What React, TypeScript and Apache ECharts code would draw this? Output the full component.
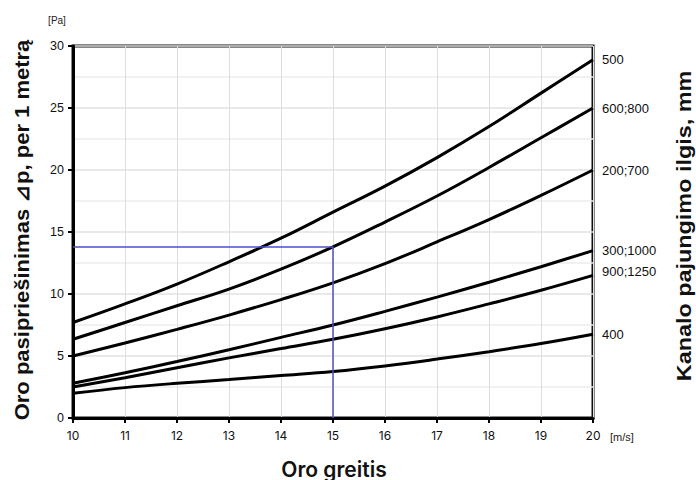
import React, { useEffect, useRef } from "react";
import * as echarts from "echarts";

const speeds = [10, 11, 12, 13, 14, 15, 16, 17, 18, 19, 20];
const seriesNames = ["500", "600;800", "200;700", "300;1000", "900;1250", "400"];
const s500 = [7.7, 9.2, 10.8, 12.6, 14.5, 16.6, 18.7, 21.0, 23.5, 26.2, 28.9];
const s600_800 = [6.35, 7.7, 9.05, 10.4, 12.0, 13.8, 15.8, 17.9, 20.2, 22.6, 25.0];
const s200_700 = [5.0, 6.05, 7.15, 8.3, 9.55, 10.9, 12.45, 14.2, 16.0, 17.95, 20.0];
const s300_1000 = [2.8, 3.65, 4.55, 5.5, 6.5, 7.5, 8.6, 9.75, 10.95, 12.2, 13.5];
const s900_1250 = [2.5, 3.25, 4.05, 4.85, 5.6, 6.35, 7.2, 8.15, 9.2, 10.3, 11.5];
const s400 = [2.0, 2.45, 2.8, 3.1, 3.42, 3.75, 4.2, 4.75, 5.35, 6.0, 6.75];
const allValues = [s500, s600_800, s200_700, s300_1000, s900_1250, s400];
const labelOffsets = [0, 0, 0, 0, -4, 0];
const guideX = [10, 15, 15];
const guideY = [13.8, 13.8, 0];

export default function App() {
  const ref = useRef<HTMLDivElement>(null);
  useEffect(() => {
    if (!ref.current) return;
    const chart = echarts.init(ref.current, null, { renderer: "svg" });
    const curveSeries = allValues.map((vals, i) => ({
      type: "line",
      name: seriesNames[i],
      data: speeds.map((x, j) => [x, vals[j]]),
      smooth: 0.4,
      showSymbol: false,
      lineStyle: { color: "#000", width: 3 },
      z: 3,
      endLabel: {
        show: true,
        formatter: seriesNames[i],
        color: "#111",
        fontSize: 13,
        fontFamily: "Liberation Sans",
        distance: 9,
        offset: [0, labelOffsets[i]],
      },
    }));
    chart.setOption({
      animation: false,
      backgroundColor: "#fff",
      grid: {
        left: 73,
        right: 103,
        top: 46,
        bottom: 62,
        show: true,
        borderColor: "#111",
        borderWidth: 3,
        containLabel: false,
      },
      xAxis: {
        type: "value",
        min: 10,
        max: 20,
        interval: 1,
        axisLine: { show: true, lineStyle: { color: "#000", width: 3 } },
        axisTick: { show: true, length: 5, lineStyle: { color: "#000", width: 2 } },
        axisLabel: { color: "#111", fontSize: 12, fontFamily: "Inter", margin: 11 },
        splitLine: { show: true, lineStyle: { color: "#dedede", width: 1 } },
      },
      yAxis: {
        type: "value",
        min: 0,
        max: 30,
        interval: 5,
        axisLine: { show: true, lineStyle: { color: "#000", width: 3 } },
        axisTick: { show: true, length: 5, lineStyle: { color: "#000", width: 2 } },
        axisLabel: { color: "#111", fontSize: 12.5, fontFamily: "Liberation Sans", margin: 9 },
        splitLine: { show: true, lineStyle: { color: "#e2e2e2", width: 1.5 } },
        minorTick: { show: false, splitNumber: 2 },
        minorSplitLine: { show: true, lineStyle: { color: "#ececec", width: 1.5 } },
      },
      series: [
        ...curveSeries,
        {
          type: "line",
          name: "guide",
          data: guideX.map((x, i) => [x, guideY[i]]),
          showSymbol: false,
          lineStyle: { color: "#4a52c4", width: 1.5 },
          z: 4,
        },
      ],
      graphic: [
        {
          type: "text",
          x: 57,
          y: 20,
          style: { text: "[Pa]", fontSize: 10, fontFamily: "Liberation Sans", fill: "#222", align: "center", verticalAlign: "middle" },
        },
        {
          type: "text",
          x: 610,
          y: 437,
          style: { text: "[m/s]", fontSize: 11, fontFamily: "Liberation Sans", fill: "#222", align: "left", verticalAlign: "middle" },
        },
        {
          type: "text",
          x: 334,
          y: 469,
          style: { text: "Oro greitis", fontSize: 21, fontWeight: 600, fontFamily: "Inter", fill: "#111", align: "center", verticalAlign: "middle" },
        },
        {
          type: "text",
          x: 22,
          y: 230,
          rotation: Math.PI / 2,
          scaleX: 1.1,
          style: { text: "Oro pasipriešinimas ⊿p, per 1 metrą", fontSize: 20, fontWeight: "bold", fontFamily: "Liberation Sans", fill: "#111", align: "center", verticalAlign: "middle" },
        },
        {
          type: "text",
          x: 684,
          y: 226,
          rotation: Math.PI / 2,
          scaleX: 1.17,
          style: { text: "Kanalo pajungimo ilgis, mm", fontSize: 20, fontWeight: "bold", fontFamily: "Liberation Sans", fill: "#111", align: "center", verticalAlign: "middle" },
        },
      ],
    });
    return () => chart.dispose();
  }, []);
  return <div ref={ref} style={{ width: 696, height: 480, position: "absolute", left: 0, top: 0 }} />;
}
